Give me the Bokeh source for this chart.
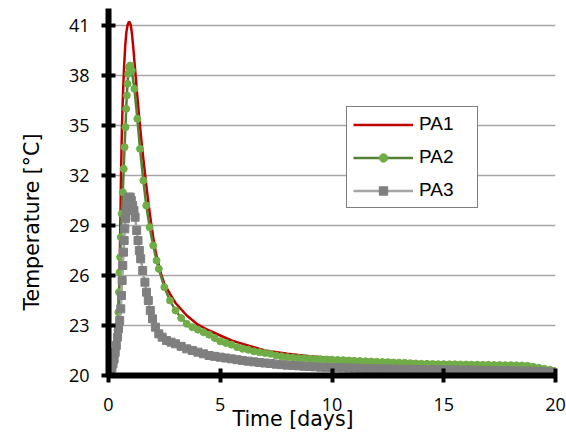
from bokeh.plotting import figure
from bokeh.models import FixedTicker, Legend, LegendItem, Title, Range1d
from bokeh.embed import file_html
from bokeh.resources import INLINE

# ---------------- data ----------------
pa1_days = [0, 0.1, 0.2, 0.3, 0.35, 0.4, 0.45, 0.5, 0.53, 0.56, 0.6, 0.65, 0.7, 0.75,
            0.8, 0.85, 0.9, 0.95, 1.0, 1.05, 1.1, 1.2, 1.3, 1.4, 1.5, 1.6, 1.7, 1.8,
            1.9, 2.0, 2.1, 2.2, 2.35, 2.5, 2.75, 3.0, 3.5, 4.0, 4.5, 5.0, 5.5, 6.0,
            7.0, 8.0, 9.0, 10.0, 11.0, 12.0, 13.0, 14.0, 15.0, 16.0, 17.0, 18.0,
            18.5, 19.0, 19.5, 20.0]
pa1_temp = [20.0, 20.15, 20.4, 20.9, 21.4, 22.3, 23.8, 26.5, 29.0, 32.0, 34.8, 37.0, 38.6, 39.8,
            40.6, 41.0, 41.2, 41.2, 41.0, 40.5, 39.8, 38.2, 36.6, 35.1, 33.7, 32.5, 31.3, 30.2,
            29.2, 28.3, 27.5, 26.9, 26.1, 25.5, 24.9, 24.35, 23.6, 23.05, 22.7, 22.4, 22.1, 21.9,
            21.5, 21.3, 21.15, 21.05, 20.97, 20.9, 20.85, 20.8, 20.76, 20.72, 20.68, 20.64,
            20.6, 20.52, 20.4, 20.25]

pa2_days = [0, 0.05, 0.1, 0.15, 0.2, 0.25, 0.3, 0.35, 0.4, 0.44, 0.47, 0.5, 0.52, 0.55,
            0.59, 0.64, 0.68, 0.72, 0.76, 0.79, 0.82, 0.85, 0.88, 0.92, 0.97, 1.04, 1.16,
            1.29, 1.41, 1.56, 1.69, 1.84, 2.0, 2.15, 2.25, 2.5, 2.75, 3.0, 3.25, 3.5, 3.75,
            4.0, 4.25, 4.5, 4.75, 5.0, 5.25, 5.5, 5.75, 6.0, 6.25, 6.5, 6.75, 7.0, 7.25,
            7.5, 7.75, 8.0, 8.25, 8.5, 8.75, 9.0, 9.25, 9.5, 9.75, 10.0, 10.25, 10.5,
            10.75, 11.0, 11.25, 11.5, 11.75, 12.0, 12.25, 12.5, 12.75, 13.0, 13.25, 13.5,
            13.75, 14.0, 14.25, 14.5, 14.75, 15.0, 15.25, 15.5, 15.75, 16.0, 16.25, 16.5,
            16.75, 17.0, 17.25, 17.5, 17.75, 18.0, 18.25, 18.5, 18.75, 19.0, 19.25, 19.5,
            19.75, 20.0]
pa2_temp = [20.0, 20.1, 20.2, 20.35, 20.55, 20.8, 21.2, 21.8, 22.7, 23.8, 25.0, 26.2, 27.1, 28.3,
            29.7, 31.0, 32.4, 33.7, 34.9, 36.0, 36.8, 37.5, 38.1, 38.5, 38.6, 38.3, 37.2,
            35.4, 33.6, 31.7, 30.2, 28.9, 27.8, 26.9, 26.4, 25.3, 24.5, 23.9, 23.45, 23.1, 22.9,
            22.75, 22.6, 22.45, 22.25, 22.05, 21.95, 21.85, 21.7, 21.6, 21.55, 21.45, 21.4, 21.35, 21.3,
            21.2, 21.15, 21.1, 21.08, 21.05, 21.03, 21.0, 20.99, 20.97, 20.96, 20.95, 20.93, 20.92,
            20.9, 20.88, 20.87, 20.85, 20.84, 20.82, 20.81, 20.8, 20.78, 20.77, 20.76, 20.74,
            20.72, 20.7, 20.7, 20.69, 20.68, 20.68, 20.67, 20.67, 20.66, 20.66, 20.65, 20.65,
            20.64, 20.64, 20.63, 20.63, 20.62, 20.62, 20.61, 20.6, 20.58, 20.52, 20.46, 20.4,
            20.34, 20.28]

pa3_days = [0, 0.05, 0.1, 0.15, 0.2, 0.25, 0.3, 0.35, 0.4, 0.45, 0.5, 0.55, 0.58, 0.61,
            0.64, 0.67, 0.7, 0.73, 0.76, 0.8, 0.84, 0.88, 0.92, 0.97, 1.02, 1.08, 1.14,
            1.19, 1.26, 1.32, 1.38, 1.44, 1.53, 1.63, 1.7, 1.78, 1.87, 1.97, 2.1, 2.25,
            2.4, 2.6, 2.8, 3.0, 3.25, 3.5, 3.75, 4.0, 4.25, 4.5, 4.75, 5.0, 5.25, 5.5,
            5.75, 6.0, 6.25, 6.5, 6.75, 7.0, 7.25, 7.5, 7.75, 8.0, 8.25, 8.5, 8.75, 9.0,
            9.25, 9.5, 9.75, 10.0, 10.25, 10.5, 10.75, 11.0, 11.25, 11.5, 11.75, 12.0,
            12.25, 12.5, 12.75, 13.0, 13.25, 13.5, 13.75, 14.0, 14.25, 14.5, 14.75, 15.0,
            15.25, 15.5, 15.75, 16.0, 16.25, 16.5, 16.75, 17.0, 17.25, 17.5, 17.75, 18.0,
            18.25, 18.5, 18.75, 19.0, 19.25, 19.5, 19.75, 20.0]
pa3_temp = [20.0, 20.1, 20.25, 20.45, 20.7, 21.0, 21.4, 21.8, 22.3, 22.8, 23.3, 24.0, 24.8, 25.7,
            26.6, 27.4, 28.1, 28.8, 29.4, 29.9, 30.3, 30.6, 30.7, 30.7, 30.5, 30.2, 29.9,
            29.5, 28.7, 28.1, 27.5, 27.0, 26.3, 25.6, 25.0, 24.5, 23.9, 23.4, 22.9, 22.5,
            22.3, 22.1, 22.0, 21.9, 21.75, 21.6, 21.5, 21.4, 21.3, 21.2, 21.15, 21.1, 21.05, 21.0,
            20.95, 20.9, 20.86, 20.82, 20.78, 20.75, 20.72, 20.68, 20.65, 20.62, 20.6, 20.58, 20.56, 20.54,
            20.52, 20.5, 20.49, 20.48, 20.47, 20.46, 20.45, 20.44, 20.43, 20.42, 20.41, 20.4,
            20.4, 20.39, 20.38, 20.38, 20.37, 20.37, 20.36, 20.36, 20.35, 20.35, 20.34, 20.34,
            20.33, 20.33, 20.32, 20.32, 20.31, 20.31, 20.3, 20.3, 20.29, 20.29, 20.28, 20.28,
            20.27, 20.27, 20.26, 20.25, 20.24, 20.22, 20.21, 20.2]

x_ticks = [0, 5, 10, 15, 20]
y_ticks = [20, 23, 26, 29, 32, 35, 38, 41]
series_names = ["PA1", "PA2", "PA3"]
x_title = "Time [days]"
y_title = "Temperature [°C]"

# ---------------- figure ----------------
p = figure(width=566, height=434, output_backend="svg", toolbar_location=None,
           x_range=Range1d(0, 20), y_range=Range1d(20, 42.02),
           min_border_left=105, min_border_right=11, min_border_top=8, min_border_bottom=59)
p.outline_line_color = None
p.background_fill_color = "white"
p.border_fill_color = "white"

p.xgrid.visible = False
p.ygrid.grid_line_color = "#a6a6a6"
p.ygrid.grid_line_width = 1.5

p.xaxis.ticker = FixedTicker(ticks=x_ticks)
p.yaxis.ticker = FixedTicker(ticks=y_ticks)
for ax in (p.xaxis, p.yaxis):
    ax.axis_line_width = 6
    ax.axis_line_color = "black"
    ax.major_tick_line_width = 4
    ax.major_tick_line_color = "black"
    ax.major_tick_in = 7
    ax.major_tick_out = 7
    ax.minor_tick_line_color = None
    ax.major_label_text_font = "Open Sans"
    ax.major_label_text_font_size = "18px"
    ax.major_label_text_color = "black"
p.xaxis.major_label_standoff = 15
p.yaxis.major_label_standoff = 12

# series (PA1 drawn first, PA3 on top)
r1 = p.line(pa1_days, pa1_temp, line_color="#c00000", line_width=2.5)
l2 = p.line(pa2_days, pa2_temp, line_color="#548235", line_width=2.5)
m2 = p.scatter(pa2_days, pa2_temp, marker="circle", size=7,
               fill_color="#70ad47", line_color="#70ad47")
l3 = p.line(pa3_days, pa3_temp, line_color="#a5a5a5", line_width=2.5)
m3 = p.scatter(pa3_days, pa3_temp, marker="square", size=8,
               fill_color="#7f7f7f", line_color="#7f7f7f")

legend = Legend(items=[LegendItem(label=series_names[0], renderers=[r1]),
                       LegendItem(label=series_names[1], renderers=[l2, m2]),
                       LegendItem(label=series_names[2], renderers=[l3, m3])],
                location=(238, 167), padding=6, spacing=11,
                glyph_width=60, glyph_height=21, label_height=21, label_width=52,
                label_standoff=6, border_line_color="black", border_line_width=1,
                background_fill_color="white", background_fill_alpha=1.0,
                label_text_font="Liberation Sans", label_text_font_size="19px",
                label_text_color="black")
p.add_layout(legend)

p.add_layout(Title(text=x_title, align="left", offset=124, standoff=-18,
                   text_font="DejaVu Sans", text_font_size="20.5px",
                   text_font_style="normal", text_color="black"), "below")
p.add_layout(Title(text=y_title, align="left", offset=65, standoff=39,
                   vertical_align="top",
                   text_font="DejaVu Sans", text_font_size="20.5px",
                   text_font_style="normal", text_color="black"), "left")

open("out.html", "w").write(file_html(p, INLINE))
